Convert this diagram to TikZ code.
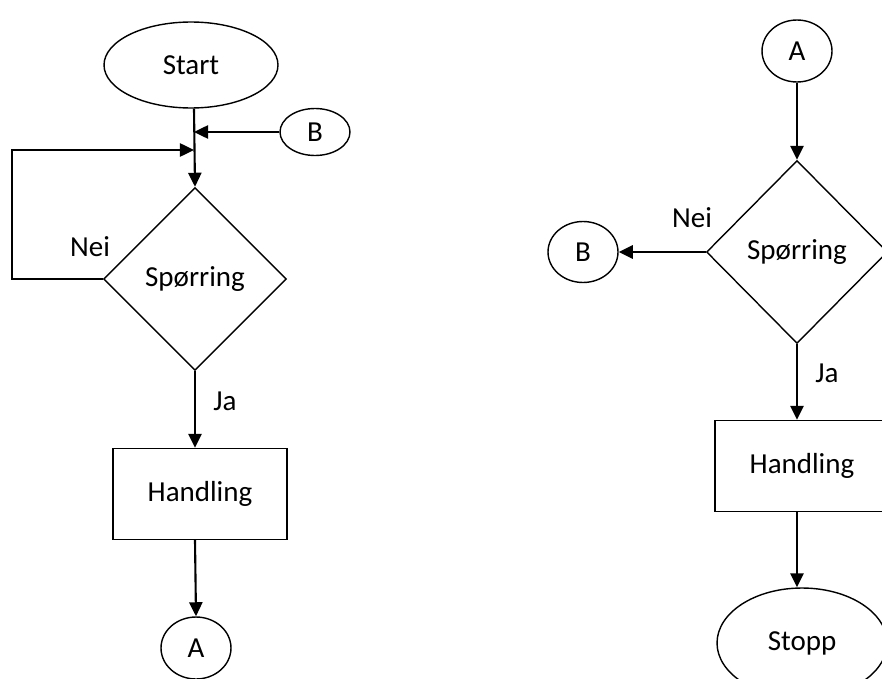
\documentclass[tikz,border=0pt]{standalone}
\usepackage{fontspec}
\setmainfont{Carlito}
\usepackage{tikz}
\usetikzlibrary{shapes,arrows,positioning,calc,arrows.meta}

\begin{document}
\begin{tikzpicture}[x=0.02cm, y=-0.02cm,
        every node/.style={font=\fontsize{16.5pt}{19pt}\selectfont},
        term/.style={draw, ellipse, line width=0.8pt, inner sep=0pt, minimum width=3.48cm, minimum height=1.72cm},
        conn/.style={draw, ellipse, line width=0.8pt, inner sep=0pt, minimum width=1.4cm, minimum height=1.24cm},
        query/.style={draw, diamond, line width=0.8pt, inner sep=0pt, minimum width=3.66cm, minimum height=3.66cm},
        action/.style={draw, rectangle, line width=0.8pt, minimum width=3.48cm, minimum height=1.82cm},
        flow/.style={line width=1.2pt, -{Triangle[length=8pt, width=7.5pt]}}]
        \useasboundingbox (0,0) rectangle (882,679);
        \clip (0,0) rectangle (882,679);

        % Left chart
        \node[term] (start) at (191,65) {Start};
        \node[conn, minimum height=0.94cm] (b1) at (315,132) {B};
        \node[query] (q1) at (195,279) {Spørring};
        \node[action] (h1) at (200,494) {Handling};
        \node[conn] (a1) at (196,648) {A};
        \node (nei1) at (90,247) {Nei};
        \node (ja1) at (225,401) {Ja};
        \coordinate (j1) at (194,132);
        \coordinate (j2) at (194,150);

        \draw[flow] (j1 |- start.south) -- (q1.north);
        \draw[flow] (b1.west) -- (j1);
        \draw[flow] (q1.west) -- ++(-91,0) |- (j2);
        \draw[flow] (q1.south) -- (q1.south |- h1.north);
        \draw[flow] (q1.south |- h1.south) -- (a1.north);

        % Right chart
        \node[conn] (a2) at (797,51) {A};
        \node[query, minimum width=3.62cm] (q2) at (797,252) {Spørring};
        \node[conn, minimum height=1.22cm] (b2) at (583,252) {B};
        \node[action] (h2) at (802,466) {Handling};
        \node[term, minimum width=3.4cm, minimum height=2.2cm] (stopp) at (802,643) {Stopp};
        \node (nei2) at (692,218) {Nei};
        \node (ja2) at (827,373) {Ja};

        \draw[flow] (a2.south) -- (q2.north);
        \draw[flow] (q2.west) -- (b2.east);
        \draw[flow] (q2.south) -- (q2.south |- h2.north);
        \draw[flow] (q2.south |- h2.south) -- (q2.south |- stopp.north);
    \end{tikzpicture}
\end{document}
